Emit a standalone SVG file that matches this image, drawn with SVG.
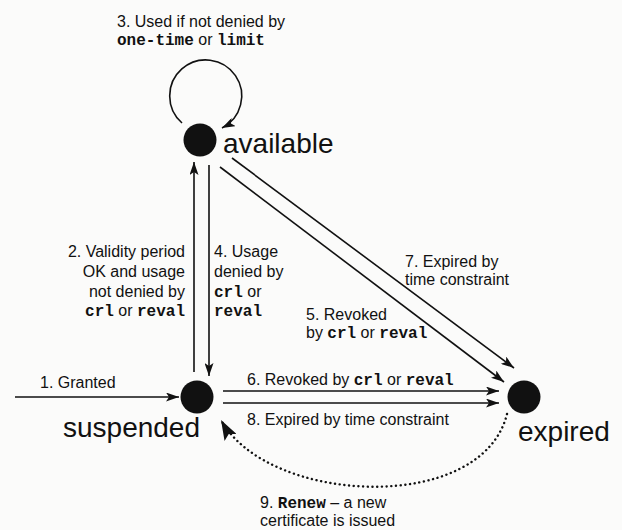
<svg xmlns="http://www.w3.org/2000/svg" width="622" height="530" viewBox="0 0 622 530">
<style>
.t{font-family:"Liberation Sans",Arial,sans-serif;font-size:16px;fill:#111}
.m{font-family:"Liberation Mono","Courier New",monospace;font-weight:bold}
.big{font-size:28px}
.c{fill:none;stroke:#111;stroke-width:1.6}
.dot{fill:none;stroke:#111;stroke-width:2.4;stroke-linecap:round;stroke-dasharray:0.1 4.6}
.node{fill:#111}
</style>
<defs>
<marker id="ah" viewBox="0 0 13 9" refX="13" refY="4.5" markerWidth="13" markerHeight="9" markerUnits="userSpaceOnUse" orient="auto">
<path d="M0,0 L13,4.5 L0,9 L3,4.5 z" fill="#111"/>
</marker>
<marker id="ahb" viewBox="0 0 20 14" refX="20" refY="7" markerWidth="20" markerHeight="14" markerUnits="userSpaceOnUse" orient="auto">
<path d="M0,0 L20,7 L0,14 L4,7 z" fill="#111"/>
</marker>
</defs>
<rect width="622" height="530" fill="#fbfbfa"/>
<g id="connectors">
<path class="c" d="M15,397 L179,397" marker-end="url(#ah)"/>
<path class="c" d="M194,372 L194,162" marker-end="url(#ah)"/>
<path class="c" d="M209,165 L209,376" marker-end="url(#ah)"/>
<path class="c" d="M182,123 A36,36 0 1 1 222,128" marker-end="url(#ah)"/>
<path class="c" d="M220,167 L504,382" marker-end="url(#ah)"/>
<path class="c" d="M232,158 L514,368" marker-end="url(#ah)"/>
<path class="c" d="M223,391 L499,391" marker-end="url(#ah)"/>
<path class="c" d="M223,403 L499,403" marker-end="url(#ah)"/>
<path class="dot" d="M507,414 C482,515 268,505 221,420" marker-end="url(#ahb)"/>
</g>
<g id="labels">
<text class="t" x="117" y="27">3. Used if not denied by</text>
<text class="t" x="117" y="45"><tspan class="m">one-time</tspan> or <tspan class="m">limit</tspan></text>
<text class="t" x="185" y="257" text-anchor="end">2. Validity period</text>
<text class="t" x="185" y="277" text-anchor="end">OK and usage</text>
<text class="t" x="185" y="297" text-anchor="end">not denied by</text>
<text class="t" x="185" y="316" text-anchor="end"><tspan class="m">crl</tspan> or <tspan class="m">reval</tspan></text>
<text class="t" x="214" y="257">4. Usage</text>
<text class="t" x="214" y="277">denied by</text>
<text class="t" x="214" y="297"><tspan class="m">crl</tspan> or</text>
<text class="t" x="214" y="316"><tspan class="m">reval</tspan></text>
<text class="t" x="405" y="267">7. Expired by</text>
<text class="t" x="405" y="285">time constraint</text>
<text class="t" x="306" y="320">5. Revoked</text>
<text class="t" x="306" y="338">by <tspan class="m">crl</tspan> or <tspan class="m">reval</tspan></text>
<text class="t" x="40" y="388">1. Granted</text>
<text class="t" x="247" y="385">6. Revoked by <tspan class="m">crl</tspan> or <tspan class="m">reval</tspan></text>
<text class="t" x="247" y="425">8. Expired by time constraint</text>
<text class="t" x="260" y="508">9. <tspan class="m">Renew</tspan> – a new</text>
<text class="t" x="260" y="526">certificate is issued</text>
</g>
<g id="available">
<circle class="node" cx="200" cy="140" r="16.5"/>
<text class="t big" x="223" y="153">available</text>
</g>
<g id="suspended">
<circle class="node" cx="197" cy="397" r="16.5"/>
<text class="t big" x="63" y="437">suspended</text>
</g>
<g id="expired">
<circle class="node" cx="524" cy="397" r="16.5"/>
<text class="t big" x="518" y="441">expired</text>
</g>
</svg>
